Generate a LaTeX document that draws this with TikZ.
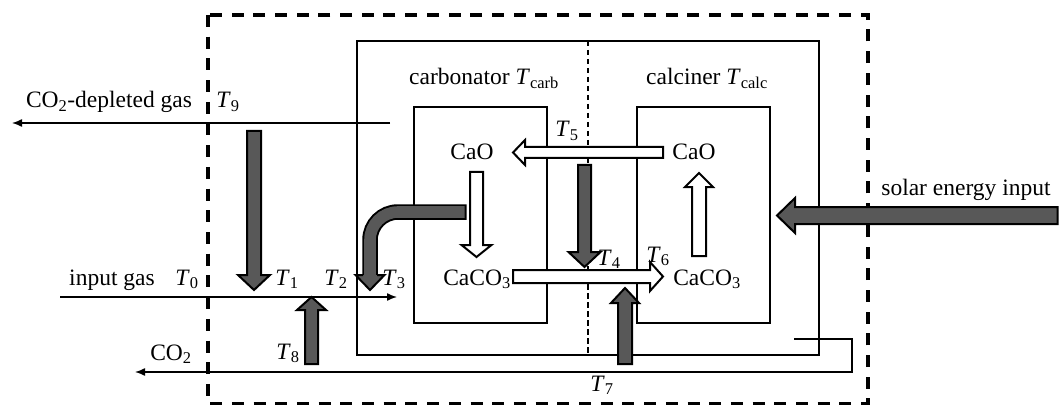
\documentclass[tikz,border=0pt]{standalone}
\usepackage{fontspec}
\setmainfont{Liberation Serif}
\usetikzlibrary{arrows.meta}
\definecolor{darkgrey}{RGB}{88,88,88}
\newcommand{\Tv}[1]{\textit{T}\textsubscript{#1}}
% vertical block arrow: style, x, ytail, ybase, ytip, halfshaft, halfhead
\newcommand{\varr}[7]{\path[#1] ({#2-#6},#3) -- ({#2-#6},#4) -- ({#2-#7},#4) -- (#2,#5) -- ({#2+#7},#4) -- ({#2+#6},#4) -- ({#2+#6},#3) -- cycle;}
% horizontal block arrow: style, y, xtail, xbase, xtip, halfshaft, halfhead
\newcommand{\harr}[7]{\path[#1] (#3,{#2-#6}) -- (#4,{#2-#6}) -- (#4,{#2-#7}) -- (#5,#2) -- (#4,{#2+#7}) -- (#4,{#2+#6}) -- (#3,{#2+#6}) -- cycle;}
\begin{document}
\begin{tikzpicture}[x=1pt,y=-1pt,
  box/.style={line width=2.9pt},
  thinline/.style={line width=1.4pt},
  gasarrow/.style={thinline,-{Latex[length=10pt,width=8pt]}},
  darkarrow/.style={fill=darkgrey,draw=black,line width=2pt,line join=miter},
  whitearrow/.style={fill=white,draw=black,line width=2pt,line join=miter},
  lbl/.style={inner sep=0pt,anchor=base,font=\fontsize{23.5}{26}\selectfont}]
\useasboundingbox (0,0) rectangle (1059,406);

% outer dashed boundary
\draw[line width=3.2pt,dash pattern=on 12pt off 9.7pt] (208,15) rectangle (868,403.5);
% reactor
\draw[box] (357,41) rectangle (819,355);
\draw[line width=1.8pt,dash pattern=on 5.5pt off 3.5pt] (588,41) -- (588,355);
\draw[box] (414,107) rectangle (547,323);
\draw[box] (637,107) rectangle (770,323);

% gas lines
\coordinate (dep0) at (390,123);
\coordinate (dep1) at (12,123);
\draw[gasarrow] (dep0) -- (dep1);
\coordinate (in0) at (60,297);
\coordinate (in1) at (397,297);
\draw[gasarrow] (in0) -- (in1);
\coordinate (co0) at (794,339);
\coordinate (co1) at (852,339);
\coordinate (co2) at (852,372);
\coordinate (co3) at (135,372);
\draw[gasarrow] (co0) -- (co1) -- (co2) -- (co3);

% dark block arrows
\varr{darkarrow}{254}{131}{275}{290}{7}{16}
\varr{darkarrow}{311.5}{364}{310}{297}{6.5}{14.5}
\varr{darkarrow}{584.5}{165}{252}{267}{6.5}{16}
\varr{darkarrow}{625}{364}{303}{288}{7}{14}
\harr{darkarrow}{215.5}{1057.5}{795}{777}{8.5}{17.5}
% curved dark arrow
\draw[line width=15.5pt,black,line cap=butt,rounded corners=28pt] (466.5,212) -| (370,277);
\draw[line width=11.6pt,darkgrey,line cap=butt,rounded corners=28pt] (464.5,212) -| (370,278);
\fill[darkgrey] (355.5,275) -- (370,290) -- (384.5,275) -- cycle;
\draw[line width=2pt,line join=miter] (363,275) -- (355.5,275) -- (370,290) -- (384.5,275) -- (377,275);

% white block arrows
\varr{whitearrow}{476.5}{172}{245}{257}{6.5}{15}
\harr{whitearrow}{152.5}{663}{525}{513}{5.5}{12.5}
\harr{whitearrow}{276.5}{513}{650}{663}{6.5}{14.5}
\varr{whitearrow}{699}{256}{187}{173}{7}{14}

% labels
\node[lbl] (depl) at (109,108) {CO\textsubscript{2}-depleted gas};
\node[lbl] (t9) at (228,108) {\Tv{9}};
\node[lbl] (inl) at (112,285) {input gas};
\node[lbl] (t0) at (187,285) {\Tv{0}};
\node[lbl] (t1) at (287,285) {\Tv{1}};
\node[lbl] (t2) at (336,285) {\Tv{2}};
\node[lbl] (t3) at (394,285) {\Tv{3}};
\node[lbl] (t8) at (288,359) {\Tv{8}};
\node[lbl] (co2l) at (171,360) {CO\textsubscript{2}};
\node[lbl] (t7) at (602,391) {\Tv{7}};
\node[lbl] (carb) at (484,85) {carbonator \Tv{carb}};
\node[lbl] (calc) at (707,85) {calciner \Tv{calc}};
\node[lbl] (t5) at (567,137) {\Tv{5}};
\node[lbl] (caol) at (472,160) {CaO};
\node[lbl] (caor) at (694,160) {CaO};
\node[lbl] (cacl) at (477,285) {CaCO\textsubscript{3}};
\node[lbl] (cacr) at (707,285) {CaCO\textsubscript{3}};
\node[lbl] (t4) at (609,265) {\Tv{4}};
\node[lbl] (t6) at (658,262) {\Tv{6}};
\node[lbl] (solar) at (966,195) {solar energy input};
\end{tikzpicture}
\end{document}
